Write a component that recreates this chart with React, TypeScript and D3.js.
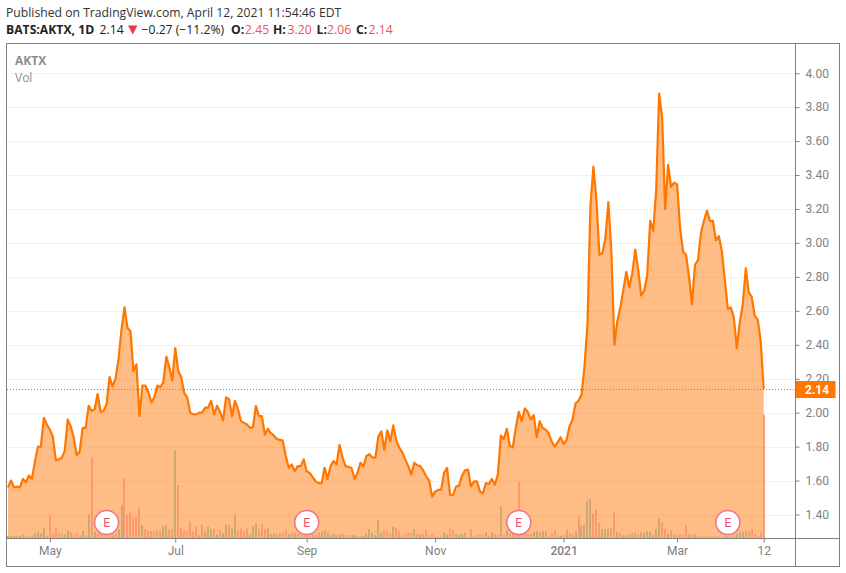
import * as d3 from "d3"
import { useEffect, useRef } from "react"

const width = 846
const height = 573

// daily closes
const closes = [
  1.56, 1.6, 1.56, 1.565, 1.56, 1.61, 1.59, 1.63, 1.61, 1.71,
  1.8, 1.8, 1.97, 1.93, 1.9, 1.86, 1.72, 1.725, 1.735, 1.775,
  1.96, 1.92, 1.855, 1.75, 1.77, 1.91, 1.91, 2.04, 2.01, 2.02,
  2.11, 2.005, 2.01, 2.05, 2.21, 2.155, 2.2, 2.315, 2.49, 2.62,
  2.5, 2.48, 2.245, 2.285, 1.98, 2.16, 2.16, 2.12, 2.06, 2.09,
  2.16, 2.15, 2.18, 2.33, 2.27, 2.19, 2.38, 2.245, 2.21, 2.115,
  2.09, 2.0, 1.99, 1.99, 2.0, 2.0, 2.03, 2.03, 2.07, 1.99,
  2.04, 2.005, 1.955, 2.09, 2.08, 1.98, 2.07, 2.02, 1.95, 1.94,
  1.93, 1.91, 1.915, 2.04, 1.98, 1.98, 1.87, 1.905,
  1.88, 1.865, 1.845, 1.84, 1.835, 1.745, 1.675, 1.695, 1.655, 1.685,
  1.685, 1.725, 1.655, 1.645, 1.62, 1.595, 1.585, 1.585, 1.675, 1.61,
  1.685, 1.715, 1.695, 1.81, 1.735, 1.685, 1.68, 1.675, 1.61, 1.645,
  1.705, 1.685, 1.745, 1.755, 1.735, 1.735, 1.86, 1.89, 1.78, 1.895,
  1.83, 1.925, 1.835, 1.795, 1.765, 1.725, 1.685, 1.635, 1.705, 1.69,
  1.685, 1.66, 1.625, 1.6, 1.505, 1.535, 1.545, 1.545, 1.645, 1.675,
  1.515, 1.515, 1.565, 1.57, 1.63, 1.66, 1.665, 1.565, 1.595, 1.595,
  1.535, 1.525, 1.585, 1.58, 1.61, 1.575, 1.635, 1.865, 1.845, 1.905,
  1.805, 1.795, 1.91, 2.005, 1.95, 2.025, 2.005, 1.96, 1.985, 1.855,
  1.95, 1.91, 1.9, 1.88, 1.83, 1.8, 1.825, 1.855, 1.815, 1.84,
  1.92, 1.96, 2.055, 2.07, 2.105, 2.27, 2.52, 3.22, 3.45, 3.25,
  2.93, 2.94, 3.03, 3.24, 2.95, 2.4, 2.54, 2.62, 2.72, 2.83,
  2.74, 2.82, 2.96, 2.84, 2.69, 2.72, 2.81, 3.13, 3.07, 3.31,
  3.88, 3.74, 3.2, 3.46, 3.33, 3.355, 3.345, 3.09, 2.95, 2.93,
  2.8, 2.64, 2.87, 2.9, 3.06, 3.13, 3.19, 3.13, 3.13, 3.015,
  3.04, 2.95, 2.78, 2.61, 2.62, 2.56, 2.38, 2.53, 2.64, 2.85,
  2.71, 2.68, 2.57, 2.55, 2.42, 2.14,
]

const volumes = [
  8, 8, 8, 6, 8, 12, 6, 6, 9, 16,
  20, 16, 33, 8, 72, 15, 33, 16, 12, 12,
  25, 18, 12, 18, 9, 22, 9, 72, 244, 22,
  15, 15, 12, 12, 12, 12, 15, 28, 100, 181,
  70, 79, 62, 65, 94, 40, 28, 25, 22, 22,
  25, 25, 36, 40, 28, 28, 265, 160, 33, 25,
  22, 52, 20, 36, 9, 42, 22, 36, 28, 30,
  12, 25, 16, 42, 40, 30, 72, 25, 30, 22,
  33, 12, 36, 45, 28, 42, 28, 33,
  14, 15, 14, 15, 20, 25, 14, 16, 18, 15,
  12, 12, 12, 10, 12, 12, 18, 20, 25, 20,
  10, 14, 10, 12, 14, 10, 10, 10, 12, 6,
  6, 8, 14, 28, 16, 10, 55, 18, 25, 25,
  15, 35, 32, 22, 10, 14, 18, 18, 28, 14,
  12, 12, 25, 10, 14, 8, 5, 5, 18, 12,
  30, 25, 14, 10, 14, 16, 4, 28, 8, 10,
  12, 12, 18, 6, 18, 12, 10, 97, 12, 25,
  16, 18, 20, 170, 15, 20, 15, 14, 20, 22,
  18,
  22, 20, 8, 16, 24, 10, 8, 10, 26, 16,
  10, 22, 68, 38, 42, 113, 120, 75, 87, 47,
  28, 28, 28, 32, 78, 20, 16, 10, 10, 12,
  16, 18, 12, 20, 16, 22, 20, 10, 28, 60,
  50, 28, 14, 25, 12, 10, 12, 12, 40, 12,
  12, 12, 8, 6, 5, 6, 6, 6, 8, 5,
  5, 8, 8, 8, 10, 14, 18, 20, 22, 22,
  28, 14, 8, 18, 370,
]

// 1 = up day, 0 = down day
const volumeUp = [
  1, 1, 1, 1, 1, 1, 1, 1, 1, 1,
  1, 1, 1, 0, 0, 0, 0, 0, 1, 1,
  1, 0, 0, 0, 1, 1, 0, 1, 0, 1,
  0, 0, 0, 0, 0, 0, 0, 1, 1, 0,
  0, 0, 0, 0, 0, 1, 0, 0, 0, 0,
  1, 0, 1, 1, 0, 0, 1, 0, 0, 0,
  0, 0, 0, 0, 1, 0, 1, 1, 1, 0,
  1, 0, 1, 1, 0, 1, 1, 0, 0, 0,
  0, 1, 1, 1, 0, 0, 0, 1,
  0, 1, 0, 1, 0, 0, 1, 0, 0, 1,
  0, 0, 0, 0, 0, 0, 0, 1, 1, 0,
  1, 1, 0, 1, 0, 0, 0, 0, 1, 1,
  1, 1, 1, 1, 1, 1, 1, 1, 0, 0,
  0, 1, 0, 0, 0, 0, 0, 0, 1, 0,
  1, 0, 0, 0, 0, 0, 0, 0, 1, 1,
  0, 0, 1, 1, 1, 1, 1, 0, 1, 0,
  0, 0, 1, 1, 1, 0, 0, 1, 0, 1,
  0, 0, 0, 0, 0, 0, 0, 0, 1, 1,
  0,
  1, 1, 0, 0, 0, 1, 1, 0, 1, 0,
  1, 1, 0, 1, 1, 1, 1, 0, 0, 0,
  1, 1, 1, 0, 0, 1, 0, 0, 1, 0,
  1, 1, 0, 0, 1, 1, 1, 1, 1, 1,
  0, 0, 1, 0, 1, 0, 0, 0, 0, 0,
  0, 1, 1, 1, 1, 1, 0, 0, 0, 0,
  0, 1, 0, 1, 0, 1, 1, 1, 1, 0,
  0, 0, 0, 0, 0,
]

const priceTicks = [1.4, 1.6, 1.8, 2.0, 2.2, 2.4, 2.6, 2.8, 3.0, 3.2, 3.4, 3.6, 3.8, 4.0]
const timeTicks = [14, 56, 100, 143, 186, 224, 253]
const timeLabels = ["May", "Jul", "Sep", "Nov", "2021", "Mar", "12"]
const earnings = [33, 100, 171, 241]
const lastPrice = 2.14
const changeText = "−0.27 (−11.2%)"
const ohlc = [
  { label: "O:", value: "2.45", lx: 231, vx: 245 },
  { label: "H:", value: "3.20", lx: 273, vx: 287.5 },
  { label: "L:", value: "2.06", lx: 316.5, vx: 327 },
  { label: "C:", value: "2.14", lx: 356, vx: 368.5 },
]

const fontUi = "'Open Sans', sans-serif"
const fontAxis = "Roboto, sans-serif"
const gray = "#808080"
const orange = "#ff7600"
const red = "#ef5350"

const left = 6.5
const right = 795.5
const top = 43.5
const bottom = 538.5

export default function App() {
  const gx = useRef<SVGGElement>(null)
  const gy = useRef<SVGGElement>(null)

  const x = d3.scaleLinear([0, 253], [8, 763.7])
  const y = d3.scaleLinear([1.4, 4.0], [514.5, 73.2])
  const v = d3.scaleLinear([0, 370], [bottom, 415])

  const area = d3
    .area<number>()
    .x((_, i) => x(i))
    .y0(bottom)
    .y1((d) => y(d))
  const line = d3
    .line<number>()
    .x((_, i) => x(i))
    .y((d) => y(d))

  const lastY = Math.round(y(lastPrice)) + 0.5

  useEffect(() => {
    const axisY = d3
      .axisRight(y)
      .tickValues(priceTicks)
      .tickSize(4)
      .tickPadding(6)
      .tickFormat((d) => (d as number).toFixed(2))
    const svgY = d3.select(gy.current!).call(axisY)
    svgY.select(".domain").remove()
    svgY.selectAll("line").attr("stroke", gray)
    svgY
      .selectAll("text")
      .attr("fill", gray)
      .attr("font-family", fontAxis)
      .attr("font-size", 12)

    const axisX = d3
      .axisBottom(x)
      .tickValues(timeTicks)
      .tickSize(4)
      .tickPadding(4)
      .tickFormat((_, i) => timeLabels[i])
    const svgX = d3.select(gx.current!).call(axisX)
    svgX.select(".domain").remove()
    svgX.selectAll("line").attr("stroke", gray)
    svgX
      .selectAll("text")
      .attr("fill", gray)
      .attr("font-family", fontAxis)
      .attr("font-size", 12)
      .attr("font-weight", (_, i) => (timeLabels[i] === "2021" ? 500 : 400))
  }, [])

  return (
    <svg
      width={width}
      height={height}
      style={{ position: "absolute", left: 0, top: 0, background: "#fff" }}
    >
      <defs>
        <clipPath id="plot">
          <rect x={left} y={top} width={right - left} height={bottom - top} />
        </clipPath>
      </defs>

      <text x={6} y={16.5} fontFamily={fontUi} fontSize={12.2} fill="#333">
        Published on TradingView.com, April 12, 2021 11:54:46 EDT
      </text>
      <g fontFamily={fontUi} fontSize={12.2} fill="#222">
        <text x={6} y={33.5} fontWeight={700}>
          BATS:AKTX, 1D
        </text>
        <text x={99.5} y={33.5}>
          {lastPrice.toFixed(2)}
        </text>
        <path d="M128,25.5 L137.5,25.5 L132.75,34.5 Z" fill="#f23645" />
        <text x={141.5} y={33.5}>
          {changeText}
        </text>
        {ohlc.map((d) => (
          <g key={d.label}>
            <text x={d.lx} y={33.5} fontWeight={700}>
              {d.label}
            </text>
            <text x={d.vx} y={33.5} fill={red}>
              {d.value}
            </text>
          </g>
        ))}
      </g>

      {priceTicks.map((t) => (
        <line
          key={t}
          x1={left}
          x2={right}
          y1={Math.round(y(t)) + 0.5}
          y2={Math.round(y(t)) + 0.5}
          stroke="#f0f2f6"
        />
      ))}

      <g clipPath="url(#plot)">
        <path d={area(closes) ?? undefined} fill={orange} fillOpacity={0.48} />
        {volumes.map((d, i) => (
          <rect
            key={i}
            x={Math.round(x(i)) - 1}
            y={v(d)}
            width={2}
            height={bottom - v(d)}
            fill={volumeUp[i] ? "#c9a974" : "#fa9a6e"}
          />
        ))}
        <path
          d={line(closes) ?? undefined}
          fill="none"
          stroke={orange}
          strokeWidth={2.2}
          strokeLinejoin="round"
        />
      </g>

      <line
        x1={7}
        x2={right}
        y1={lastY}
        y2={lastY}
        stroke="#f26a00"
        strokeDasharray="1 2"
      />

      <text x={15} y={65} fontFamily={fontUi} fontSize={12} fontWeight={700} fill="#8c8c8c">
        AKTX
      </text>
      <text x={15} y={82} fontFamily={fontUi} fontSize={12} fill="#8c8c8c">
        Vol
      </text>

      {earnings.map((d) => (
        <g key={d} transform={`translate(${x(d)},522.5)`}>
          <circle r={12} fill="#fff" stroke="#f0708a" strokeWidth={1.5} />
          <text
            textAnchor="middle"
            y={4.5}
            fontFamily={fontAxis}
            fontSize={12}
            fill="#e9506e"
          >
            E
          </text>
        </g>
      ))}

      <g ref={gy} transform={`translate(${right},0)`} />
      <g ref={gx} transform={`translate(0,${bottom})`} />

      <rect
        x={right}
        y={lastY - 8.5}
        width={40}
        height={17}
        fill={orange}
      />
      <text
        x={805}
        y={lastY + 4.5}
        fontFamily={fontAxis}
        fontSize={12}
        fontWeight={700}
        fill="#fff"
      >
        {lastPrice.toFixed(2)}
      </text>

      <rect
        x={left}
        y={top}
        width={839.5 - left}
        height={566.5 - top}
        fill="none"
        stroke={gray}
      />
      <line x1={right} x2={right} y1={top} y2={566.5} stroke={gray} />
      <line x1={left} x2={839.5} y1={bottom} y2={bottom} stroke={gray} />
    </svg>
  )
}
